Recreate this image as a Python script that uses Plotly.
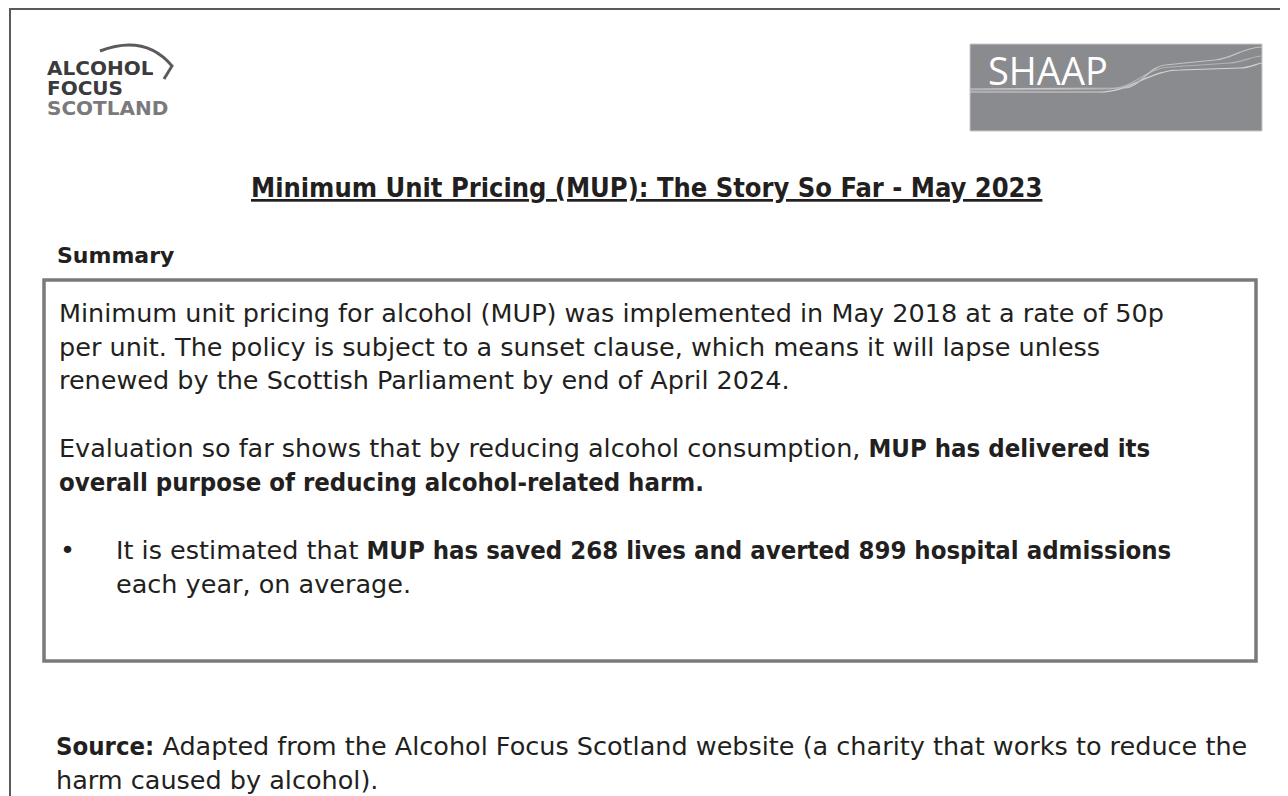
import plotly.graph_objects as go

W, H = 1288, 796
PAGE_PAD = 8  # default body margin of the html page
INK = "#231f20"
BODY_FONT = "DejaVu Sans"
BODY_SIZE = 25.5

title = "Minimum Unit Pricing (MUP): The Story So Far - May 2023"
heading = "Summary"

summary_lines = [
    "Minimum unit pricing for alcohol (MUP) was implemented in May 2018 at a rate of 50p",
    "per unit. The policy is subject to a sunset clause, which means it will lapse unless",
    "renewed by the Scottish Parliament by end of April 2024.",
    "Evaluation so far shows that by reducing alcohol consumption, <b>MUP has delivered its</b>",
    "<b>overall purpose of reducing alcohol-related harm.</b>",
]
summary_y = [313, 347, 380, 448, 482]

bullet_lines = [
    "It is estimated that <b>MUP has saved 268 lives and averted 899 hospital admissions</b>",
    "each year, on average.",
]
bullet_y = [550, 584]

source_lines = [
    "<b>Source:</b> Adapted from the Alcohol Focus Scotland website (a charity that works to reduce the",
    "harm caused by alcohol).",
]
source_y = [746, 780]

afs_words = ["ALCOHOL", "FOCUS", "SCOTLAND"]
afs_colours = ["#3b3b3d", "#3b3b3d", "#7a7a7c"]
afs_y = [68, 88, 108]

fig = go.Figure()

# hidden axes in page pixel units so the layout is easy to place
fig.update_xaxes(range=[PAGE_PAD, W + PAGE_PAD], visible=False, fixedrange=True)
fig.update_yaxes(range=[H + PAGE_PAD, PAGE_PAD], visible=False, fixedrange=True)

shapes = [
    # outer page border (runs off right and bottom)
    dict(type="rect", x0=10, y0=9, x1=W + 40, y1=H + 40,
         line=dict(color="#5a5a5a", width=2)),
    # summary box
    dict(type="rect", x0=44, y0=280, x1=1256, y1=661,
         line=dict(color="#7a7a7a", width=3.5)),
    # SHAAP logo block
    dict(type="rect", x0=970, y0=44, x1=1262, y1=131,
         fillcolor="#8a8b8e", line=dict(color="#c8c8c8", width=1)),
    dict(type="path",
         path="M 970 92 L 1100 92 C 1130 92, 1150 70, 1180 70 L 1240 68 C 1250 68, 1255 64, 1262 63",
         line=dict(color="#d4d4d6", width=1.2)),
    dict(type="path",
         path="M 970 90 L 1110 89 C 1135 88, 1145 68, 1170 67 L 1230 63 C 1245 62, 1252 56, 1262 56",
         line=dict(color="#b4b4b6", width=1.2)),
    dict(type="path",
         path="M 970 89 L 1125 88 C 1140 87, 1150 66, 1165 65 L 1215 60 C 1235 58, 1240 48, 1262 47",
         line=dict(color="#c4c4c6", width=1.2)),
    # Alcohol Focus Scotland swoosh and chevron
    dict(type="path",
         path="M 100 51 Q 145 34, 172 66 L 164 79",
         line=dict(color="#5b5b5d", width=3)),
]

annotations = []


def body(text):
    # bold runs in a slightly narrower face, closer to the original
    return (text.replace("<b>", '<b><span style="font-family:DejaVu Sans Condensed">')
                .replace("</b>", "</span></b>"))


def add_text(x, y, text, size, family=BODY_FONT, color=INK, xanchor="left", **extra):
    annotations.append(dict(
        x=x, y=y, xref="x", yref="y", text=text, showarrow=False,
        xanchor=xanchor, yanchor="middle",
        font=dict(family=family, size=size, color=color), **extra,
    ))


# logo words are stacked tightly, so give each a box no taller than its line
for word, col, yy in zip(afs_words, afs_colours, afs_y):
    add_text(46, yy, "<b>" + word + "</b>", 20, family="DejaVu Sans", color=col,
             height=18, borderpad=0)

add_text(986, 70, "SHAAP", 38, family="Open Sans", color="white")

add_text(646, 187, "<b><u>" + title + "</u></b>", 27,
         family="DejaVu Sans Condensed", color=INK, xanchor="center")
add_text(55, 255, "<b>" + heading + "</b>", 22)

for line, yy in zip(summary_lines, summary_y):
    add_text(57, yy, body(line), BODY_SIZE)

add_text(58, bullet_y[0], "•", BODY_SIZE)
for line, yy in zip(bullet_lines, bullet_y):
    add_text(114, yy, body(line), BODY_SIZE)

for line, yy in zip(source_lines, source_y):
    add_text(54, yy, body(line), BODY_SIZE)

fig.update_layout(
    width=W, height=H,
    margin=dict(l=0, r=0, t=0, b=0),
    paper_bgcolor="white", plot_bgcolor="white",
    shapes=shapes, annotations=annotations,
    showlegend=False,
)

fig.write_html("out.html", config={"displayModeBar": False})
